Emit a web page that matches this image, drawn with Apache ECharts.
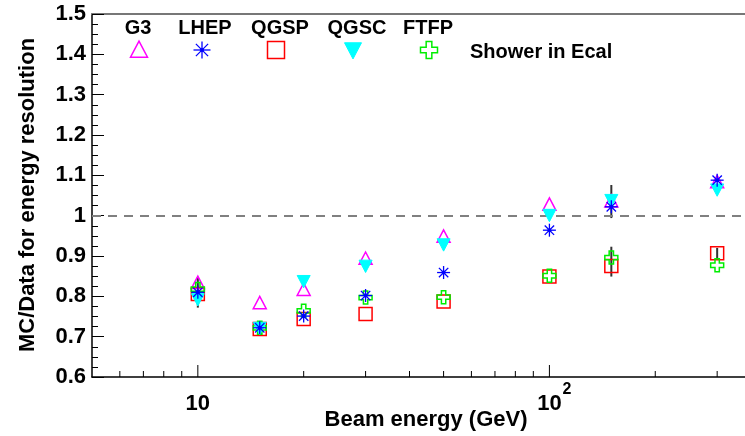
<!DOCTYPE html>
<html>
<head>
<meta charset="utf-8">
<script src="https://cdn.jsdelivr.net/npm/echarts@6/dist/echarts.min.js"></script>
<style>html,body{margin:0;padding:0;background:#fff;}#c{width:745px;height:436px;}</style>
</head>
<body>
<div id="c"></div>
<script>
// ---- data ----
const energies = [10, 15, 20, 30, 50, 100, 150, 300];
const g3   = [0.833, 0.783, 0.816, 0.893, 0.948, 1.027, 1.035, 1.083];
const lhep = [0.810, 0.722, 0.751, 0.802, 0.859, 0.964, 1.022, 1.088];
const qgsp = [0.806, 0.719, 0.744, 0.756, 0.787, 0.849, 0.875, 0.907];
const qgsc = [0.793, 0.722, 0.838, 0.876, 0.929, 1.002, 1.039, 1.065];
const ftfp = [0.818, 0.722, 0.764, 0.797, 0.798, 0.851, 0.896, 0.877];
// error bars (energy, low, high)
const errEnergy = [10, 150, 150, 300];
const errLow    = [0.772, 0.994, 0.849, 0.895];
const errHigh   = [0.848, 1.076, 0.923, 0.920];
const xMajorTicks = [10, 100];
const xMinorTicks = [6, 7, 8, 9, 20, 30, 40, 50, 60, 70, 80, 90, 200, 300];
const xTickLabels = ['10', '10'];
const xTickSups   = ['', '2'];
const legendNames = ['G3', 'LHEP', 'QGSP', 'QGSC', 'FTFP'];
const refLine = 1.0;

const FONT = '"Liberation Sans", Arial, Helvetica, sans-serif';
const colors = {G3:'#ff00ff', LHEP:'#0000ff', QGSP:'#ff0000', QGSC:'#00ffff', FTFP:'#00ee00'};
const shapes = {G3:'tri', LHEP:'star', QGSP:'square', QGSC:'itri', FTFP:'cross'};

function marker(kind, cx, cy, s, color) {
  const h = s / 2, lw = 1.5;
  const outline = {fill:'none', stroke:color, lineWidth:lw};
  if (kind === 'tri') {
    return [{type:'polygon', shape:{points:[[cx, cy - h*1.05],[cx - h, cy + h*0.85],[cx + h, cy + h*0.85]]}, style:outline}];
  }
  if (kind === 'itri') {
    return [{type:'polygon', shape:{points:[[cx - h, cy - h*0.85],[cx + h, cy - h*0.85],[cx, cy + h*1.05]]}, style:{fill:color, stroke:color, lineWidth:1}}];
  }
  if (kind === 'square') {
    return [{type:'rect', shape:{x:cx - h, y:cy - h, width:s, height:s}, style:outline}];
  }
  if (kind === 'cross') {
    const a = s / 6;
    const pts = [[cx-a,cy-h],[cx+a,cy-h],[cx+a,cy-a],[cx+h,cy-a],[cx+h,cy+a],[cx+a,cy+a],[cx+a,cy+h],[cx-a,cy+h],[cx-a,cy+a],[cx-h,cy+a],[cx-h,cy-a],[cx-a,cy-a]];
    return [{type:'polygon', shape:{points:pts}, style:outline}];
  }
  // asterisk
  const d = h * 0.72;
  const st = {stroke:color, lineWidth:1.3};
  return [
    {type:'line', shape:{x1:cx, y1:cy - h, x2:cx, y2:cy + h}, style:st},
    {type:'line', shape:{x1:cx - h, y1:cy, x2:cx + h, y2:cy}, style:st},
    {type:'line', shape:{x1:cx - d, y1:cy - d, x2:cx + d, y2:cy + d}, style:st},
    {type:'line', shape:{x1:cx - d, y1:cy + d, x2:cx + d, y2:cy - d}, style:st},
    {type:'circle', shape:{cx:cx, cy:cy, r:2}, style:{fill:color}}
  ];
}

function markerSeries(name, values, z) {
  return {
    name: name, type:'custom', xAxisIndex:0, yAxisIndex:0, z:z,
    data: energies.map((e, i) => [e, values[i]]),
    renderItem: function (params, api) {
      const p = api.coord([api.value(0), api.value(1)]);
      return {type:'group', children: marker(shapes[name], p[0], p[1], 13, colors[name])};
    }
  };
}

const chart = echarts.init(document.getElementById('c'), null, {renderer:'canvas'});

const legendX = [138, 205, 280, 357, 428];
const legendMX = [139, 202, 276, 353, 429];
const graphics = [];
legendNames.forEach((n, i) => {
  graphics.push({type:'text', x:legendX[i], y:28, style:{text:n, font:'bold 20px ' + FONT, fill:'#000', align:'center', verticalAlign:'middle'}});
  graphics.push({type:'group', children: marker(shapes[n], legendMX[i], 50, 17, colors[n])});
});
graphics.push({type:'text', x:470, y:52, style:{text:'Shower in Ecal', font:'bold 20px ' + FONT, fill:'#000', align:'left', verticalAlign:'middle'}});
graphics.push({type:'text', x:426, y:420, style:{text:'Beam energy (GeV)', font:'bold 22px ' + FONT, fill:'#000', align:'center', verticalAlign:'middle'}});
graphics.push({type:'text', x:28, y:195, rotation:Math.PI/2, style:{text:'MC/Data for energy resolution', font:'bold 22px ' + FONT, fill:'#000', align:'center', verticalAlign:'middle'}});

const option = {
  animation:false,
  backgroundColor:'#fff',
  grid:{left:92, right:0, top:14, bottom:59},
  xAxis:[
    {type:'log', logBase:10, min:5, max:360, position:'bottom',
     axisLine:{show:true, lineStyle:{color:'#000', width:1.5}},
     axisTick:{show:false}, axisLabel:{show:false}, splitLine:{show:false}},
    {type:'log', logBase:10, min:5, max:360, position:'top',
     axisLine:{show:true, lineStyle:{color:'#777', width:2}},
     axisTick:{show:false}, axisLabel:{show:false}, splitLine:{show:false}}
  ],
  yAxis:{type:'value', min:0.6, max:1.5, interval:0.1,
    axisLine:{show:true, lineStyle:{color:'#000', width:1.5}},
    axisTick:{show:true, inside:true, length:12, lineStyle:{color:'#000', width:1}},
    minorTick:{show:true, splitNumber:4, length:6, lineStyle:{color:'#000', width:1}},
    splitLine:{show:false}, minorSplitLine:{show:false},
    axisLabel:{margin:6, color:'#000', fontFamily:FONT, fontWeight:'bold', fontSize:22,
      formatter:v => (Math.abs(v - 1) < 1e-9 ? '1' : v.toFixed(1))}
  },
  graphic: graphics,
  series:[
    {type:'custom', name:'ticks', z:1, clip:false,
     data: xMajorTicks.map(v => [v, 12]).concat(xMinorTicks.map(v => [v, 6])),
     renderItem:function(params, api){
       const p = api.coord([api.value(0), 0.6]);
       return {type:'line', shape:{x1:p[0], y1:p[1], x2:p[0], y2:p[1] - api.value(1)}, style:{stroke:'#000', lineWidth:1}};
     },
     markLine:{silent:true, symbol:['none','none'], label:{show:false},
       lineStyle:{color:'#808080', type:[9,7], width:2}, data:[{yAxis:refLine}]}
    },
    {type:'custom', name:'xlabels', z:1, clip:false,
     data: xMajorTicks.map(v => [v]),
     renderItem:function(params, api){
       const i = params.dataIndex;
       const p = api.coord([api.value(0), 0.6]);
       const kids = [{type:'text', x:p[0], y:p[1] + 27, style:{text:xTickLabels[i], font:'bold 22px ' + FONT, fill:'#000', align:'center', verticalAlign:'middle'}}];
       if (xTickSups[i]) {
         kids.push({type:'text', x:p[0] + 13, y:p[1] + 13, style:{text:xTickSups[i], font:'bold 16px ' + FONT, fill:'#000', align:'left', verticalAlign:'middle'}});
       }
       return {type:'group', children:kids};
     }
    },
    {type:'custom', name:'errors', z:2,
     data: errEnergy.map((e, i) => [e, errLow[i], errHigh[i]]),
     renderItem:function(params, api){
       const a = api.coord([api.value(0), api.value(1)]);
       const b = api.coord([api.value(0), api.value(2)]);
       return {type:'line', shape:{x1:a[0], y1:a[1], x2:b[0], y2:b[1]}, style:{stroke:'#333', lineWidth:2}};
     }
    },
    markerSeries('G3', g3, 3),
    markerSeries('QGSP', qgsp, 4),
    markerSeries('FTFP', ftfp, 5),
    markerSeries('QGSC', qgsc, 6),
    markerSeries('LHEP', lhep, 7)
  ]
};
chart.setOption(option);
</script>
</body>
</html>
